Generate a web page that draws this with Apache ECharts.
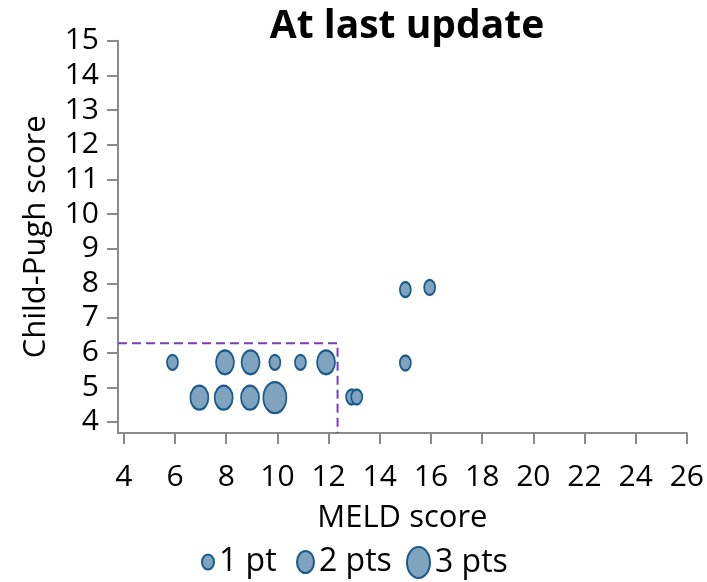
<!DOCTYPE html>
<html>
<head>
<meta charset="utf-8">
<script src="https://cdn.jsdelivr.net/npm/echarts@6/dist/echarts.min.js"></script>
<style>
  html, body { margin: 0; padding: 0; background: #fff; }
  #chart { width: 707px; height: 582px; }
</style>
</head>
<body>
<div id="chart"></div>
<script>
// Patients plotted by MELD score vs Child-Pugh score (jittered), bubble size = number of patients
const meld       = [5.9, 7.95, 8.95, 9.9, 10.9, 11.9, 6.95, 7.9, 8.93, 9.9, 12.9, 13.1, 15.0, 15.95, 15.0];
const childPugh  = [5.72, 5.72, 5.72, 5.72, 5.72, 5.72, 4.7, 4.7, 4.7, 4.7, 4.72, 4.72, 7.82, 7.88, 5.7];
const patients   = [1, 2, 2, 1, 1, 2, 2, 2, 2, 3, 1, 1, 1, 1, 1];

const sizeLabels = ['1 pt', '2 pts', '3 pts'];
const xTicks = [4, 6, 8, 10, 12, 14, 16, 18, 20, 22, 24, 26];
const yTicks = [4, 5, 6, 7, 8, 9, 10, 11, 12, 13, 14, 15];

// Threshold box: MELD < 12.35 and Child-Pugh < 6.27
const cutMeld = 12.35;
const cutChildPugh = 6.27;

const xMin = 3.77, xMax = 26, yMin = 3.68, yMax = 15;

// Ellipse size for each patient count
const bubbleSize = { 1: [11, 15], 2: [18, 24], 3: [23, 31] };

const FONT = '"Open Sans", sans-serif';
const fill = '#80a3be';
const edge = '#1a5a8d';
const axisGrey = '#8a8a8a';

const scatterSeries = [1, 2, 3].map(n => ({
  name: sizeLabels[n - 1],
  type: 'scatter',
  symbol: 'circle',
  symbolSize: bubbleSize[n],
  symbolKeepAspect: false,
  itemStyle: { color: fill, borderColor: edge, borderWidth: 2, opacity: 1 },
  data: meld.map((x, i) => [x, childPugh[i], patients[i]]).filter(d => d[2] === n),
  z: 3
}));

// Ellipse outline used for the legend keys (stretched to each key's box)
const ellipseIcon = 'path://M50,0 A50,50 0 1 1 49.99,0 Z';
const legendIcon = { 1: [12, 15], 2: [17, 22], 3: [23, 31] };
const legendLeft = [201, 296, 406];
const legends = [1, 2, 3].map(n => ({
  data: [{ name: sizeLabels[n - 1], icon: ellipseIcon, symbolKeepAspect: false }],
  left: legendLeft[n - 1],
  top: 546,
  itemWidth: legendIcon[n][0],
  itemHeight: legendIcon[n][1],
  symbolKeepAspect: false,
  itemGap: 0,
  padding: 0,
  textStyle: { fontFamily: FONT, fontSize: 32, color: '#000', padding: [0, 0, 0, 0] },
  itemStyle: { color: fill, borderColor: edge, borderWidth: 2 },
  selectedMode: false
}));

const chart = echarts.init(document.getElementById('chart'), null, { renderer: 'canvas' });
chart.setOption({
  backgroundColor: '#fff',
  animation: false,
  title: {
    text: 'At last update',
    left: 402,
    textAlign: 'center',
    top: 2,
    textStyle: { fontFamily: FONT, fontWeight: 'bold', fontSize: 39, color: '#000' }
  },
  legend: legends,
  grid: { left: 118, right: 19, top: 40.7, bottom: 149, containLabel: false },
  xAxis: {
    type: 'value',
    min: xMin, max: xMax,
    name: 'MELD score',
    nameLocation: 'middle',
    nameGap: 70,
    nameTextStyle: { fontFamily: FONT, fontSize: 31, color: '#000' },
    axisLine: { show: true, onZero: false, lineStyle: { color: axisGrey, width: 2 } },
    axisTick: { show: true, length: 11, customValues: xTicks, lineStyle: { color: axisGrey, width: 2 } },
    axisLabel: { customValues: xTicks, fontFamily: FONT, fontSize: 30, color: '#000', margin: 29 },
    splitLine: { show: false }
  },
  yAxis: {
    type: 'value',
    min: yMin, max: yMax,
    name: 'Child-Pugh score',
    nameLocation: 'middle',
    nameGap: 66,
    nameRotate: 90,
    nameTextStyle: { fontFamily: FONT, fontSize: 31, color: '#000' },
    axisLine: { show: true, onZero: false, lineStyle: { color: axisGrey, width: 2 } },
    axisTick: { show: true, length: 11, customValues: yTicks, lineStyle: { color: axisGrey, width: 2 } },
    axisLabel: { customValues: yTicks, fontFamily: FONT, fontSize: 30, color: '#000', margin: 19, padding: [6, 0, 0, 0] },
    splitLine: { show: false }
  },
  series: [
    {
      name: 'threshold',
      type: 'line',
      data: [[xMin, cutChildPugh], [cutMeld, cutChildPugh], [cutMeld, yMin]],
      symbol: 'none',
      lineStyle: { color: '#7b3fb4', width: 2, type: [9, 5] },
      silent: true,
      z: 2
    },
    ...scatterSeries
  ]
});
</script>
</body>
</html>
